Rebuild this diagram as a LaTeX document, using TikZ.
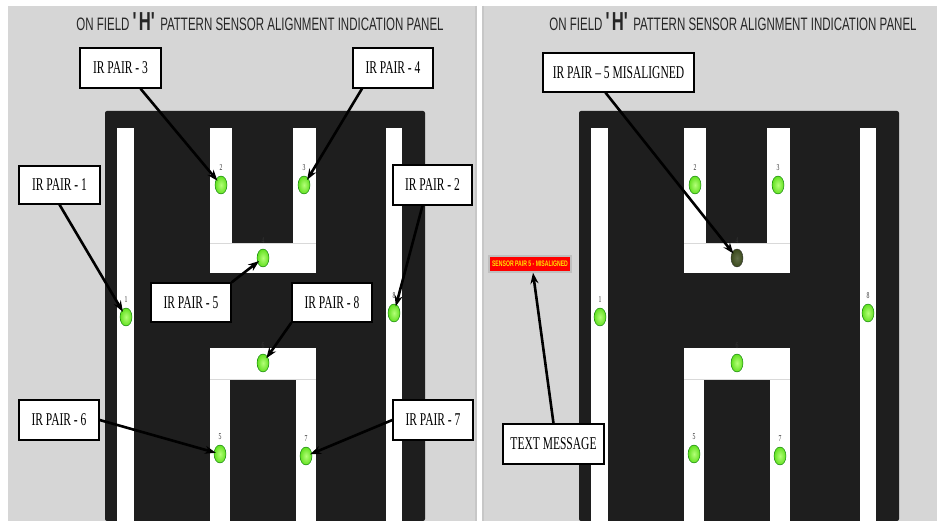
\documentclass[tikz,border=0pt]{standalone}
\usepackage{fontspec}
\setmainfont{Liberation Serif}
\newfontfamily\labelfont[FakeStretch=0.64]{Liberation Serif}
\newfontfamily\titlefont[FakeStretch=0.64]{Liberation Sans}
\usetikzlibrary{shapes.geometric,arrows.meta}

\definecolor{panelgray}{HTML}{D6D6D6}
\definecolor{boardblack}{HTML}{1E1E1E}
\definecolor{ledgreen}{HTML}{62E020}
\definecolor{ledlight}{HTML}{B4FF78}
\definecolor{leddark}{HTML}{3B4A1C}
\definecolor{msgyellow}{HTML}{FFE400}

\tikzset{
  callout/.style={draw, line width=1.3pt, fill=white, minimum width=80pt, minimum height=40pt, inner sep=0pt, font=\labelfont\fontsize{18}{20}\selectfont},
  led/.style={ellipse, minimum width=12pt, minimum height=18pt, inner sep=0pt, draw=green!45!black, line width=0.4pt,
    shading=radial, inner color=ledlight, outer color=ledgreen,
    label={[font=\labelfont\fontsize{9}{9}\selectfont, text=black!80, label distance=2pt]above:#1}},
  pointer/.style={-{Stealth[length=11pt,width=8pt]}, line width=2.6pt, shorten >=-2pt},
  title/.style={font=\titlefont\fontsize{18}{18}\selectfont, text=black!85},
  edge/.style={black!15, line width=0.8pt}
}

\begin{document}
\begin{tikzpicture}[x=1pt, y=-1pt]
\useasboundingbox (0,0) rectangle (940,521);

% grey panels
\fill[panelgray] (8,6) rectangle (476,521);
\fill[panelgray] (483,6) rectangle (937,521);
\draw[black!22, line width=1.5pt] (476,6) -- (476,521);
\draw[black!22, line width=1.5pt] (483,6) -- (483,521);

\node[title] (lt) at (260,22) {ON FIELD {\fontsize{26}{26}\selectfont\bfseries\textquotesingle H\textquotesingle} PATTERN SENSOR ALIGNMENT INDICATION PANEL};
\node[title] (rt) at (733,22) {ON FIELD {\fontsize{26}{26}\selectfont\bfseries\textquotesingle H\textquotesingle} PATTERN SENSOR ALIGNMENT INDICATION PANEL};

% left board
\fill[boardblack, rounded corners=2pt] (105,521) -- (105,111) -- (425,111) -- (425,521) -- cycle;
\fill[white] (117,128) rectangle (134,521);
\fill[white] (386,128) rectangle (402,521);
\fill[white] (210,128) rectangle (232,273);
\fill[white] (293,128) rectangle (316,273);
\fill[white] (210,243) rectangle (316,273);
\draw[edge] (210,243) -- (316,243);
\fill[white] (210,348) rectangle (316,379);
\fill[white] (210,348) rectangle (230,521);
\fill[white] (296,348) rectangle (316,521);
\draw[edge] (210,379) -- (316,379);

% right board
\fill[boardblack, rounded corners=2pt] (579,521) -- (579,111) -- (899,111) -- (899,521) -- cycle;
\fill[white] (591,128) rectangle (608,521);
\fill[white] (860,128) rectangle (876,521);
\fill[white] (684,128) rectangle (706,273);
\fill[white] (767,128) rectangle (790,273);
\fill[white] (684,243) rectangle (790,273);
\draw[edge] (684,243) -- (790,243);
\fill[white] (684,348) rectangle (790,379);
\fill[white] (684,348) rectangle (704,521);
\fill[white] (770,348) rectangle (790,521);
\draw[edge] (684,379) -- (790,379);

% sensors, left
\node[led=1] (a1) at (126,317) {};
\node[led=2] (a2) at (221,185) {};
\node[led=3] (a3) at (304,185) {};
\node[led=4] (a4) at (263,258) {};
\node[led=5] (a5) at (220,454) {};
\node[led=6] (a6) at (263,363) {};
\node[led=7] (a7) at (306,456) {};
\node[led=8] (a8) at (394,313) {};

% sensors, right
\node[led=1] (b1) at (600,317) {};
\node[led=2] (b2) at (695,185) {};
\node[led=3] (b3) at (778,185) {};
\node[led=4, inner color=leddark!80!white, outer color=leddark, draw=black!80] (b4) at (737,258) {};
\node[led=5] (b5) at (694,454) {};
\node[led=6] (b6) at (737,363) {};
\node[led=7] (b7) at (780,456) {};
\node[led=8] (b8) at (868,313) {};

% callouts, left
\node[callout, minimum width=81pt] (c3) at (120.5,68) {IR PAIR - 3};
\node[callout] (c4) at (393,68) {IR PAIR - 4};
\node[callout, minimum width=81pt, minimum height=38pt] (c1) at (59.5,185) {IR PAIR - 1};
\node[callout, minimum width=79pt] (c2) at (432.5,185) {IR PAIR - 2};
\node[callout, minimum height=39pt] (c5) at (191,302.5) {IR PAIR - 5};
\node[callout, minimum height=39pt] (c8) at (332,302.5) {IR PAIR - 8};
\node[callout] (c6) at (59,420) {IR PAIR - 6};
\node[callout] (c7) at (433,420) {IR PAIR - 7};

% callouts, right
\node[callout, minimum width=151pt, minimum height=39pt] (cm) at (618.5,72.5) {IR PAIR – 5 MISALIGNED};
\node[fill=red, draw=black!25, line width=1.5pt, text=msgyellow, font=\titlefont\bfseries\fontsize{8}{8}\selectfont,
  minimum width=82pt, minimum height=16pt, inner sep=0pt] (msg) at (530,264) {SENSOR PAIR 5 - MISALIGNED};
\node[callout, minimum width=101pt] (ct) at (553.5,444) {TEXT MESSAGE};

\draw[pointer] ([xshift=20pt]c3.south) -- (a2);
\draw[pointer] ([xshift=-31pt]c4.south) -- (a3);
\draw[pointer] (c1.south) -- (a1);
\draw[pointer] ([xshift=-10pt]c2.south) -- (a8);
\draw[pointer] (c5.north east) -- (a4);
\draw[pointer] (c8.south west) -- (a6);
\draw[pointer] (c6.east) -- (a5);
\draw[pointer] (c7.west) -- (a7);

\draw[pointer] ([xshift=-13pt]cm.south) -- (b4);
\draw[pointer, shorten >=0pt] (ct.north) -- ([xshift=3pt]msg.south);
\end{tikzpicture}
\end{document}
